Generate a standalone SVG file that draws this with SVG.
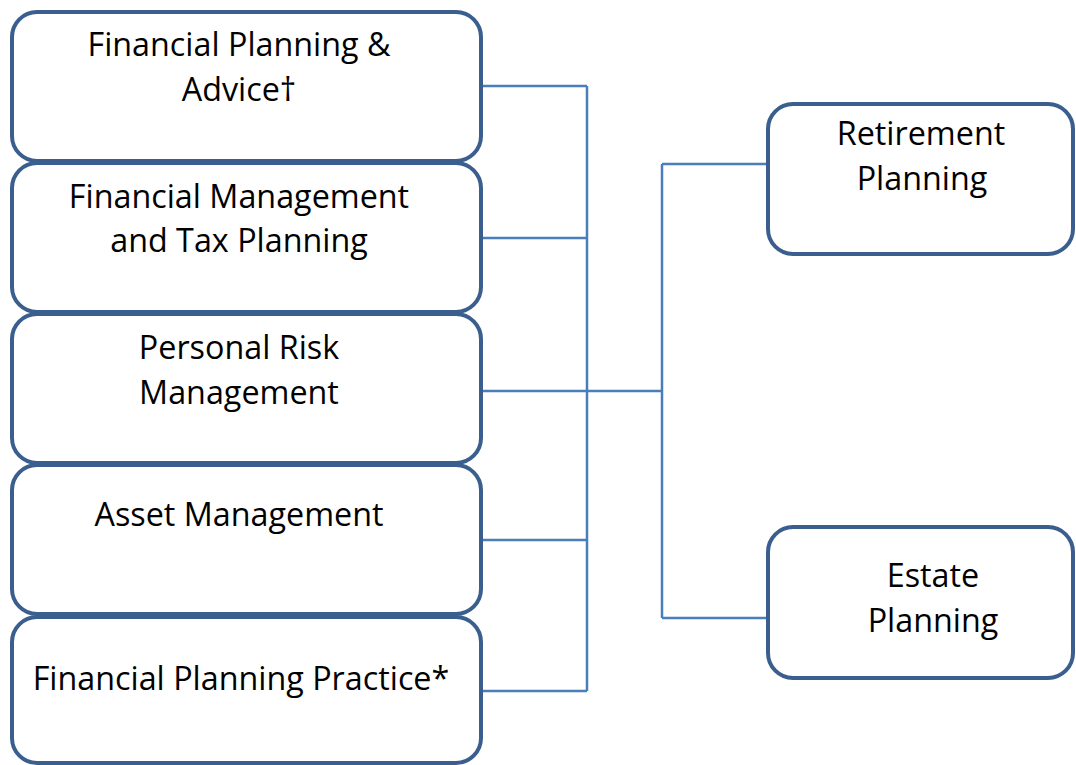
<svg xmlns="http://www.w3.org/2000/svg" width="1076" height="765" viewBox="0 0 1076 765">
<style>
.box{fill:#fff;stroke:#3A5F8E;stroke-width:4}
.t{font-family:"Open Sans","Liberation Sans",sans-serif;font-size:32.3px;fill:#000;text-anchor:middle}
.c{fill:none;stroke:#4A7EBB;stroke-width:2.5}
</style>
<rect width="1076" height="765" fill="#fff"/>
<g id="connectors">
<path class="c" d="M481 86H587M481 238H587M481 391H587M481 540H587M481 691H587M587 86V691"/>
<path class="c" d="M587 391H662M662 164V618M662 164H768M662 618H768"/>
</g>
<g id="n1"><rect class="box" x="12" y="12" width="469" height="149" rx="25"/>
<text class="t" x="239" y="56">Financial Planning &amp;</text><text class="t" x="239" y="101">Advice†</text></g>
<g id="n2"><rect class="box" x="12" y="163" width="469" height="149" rx="25"/>
<text class="t" x="239" y="208">Financial Management</text><text class="t" x="239" y="252">and Tax Planning</text></g>
<g id="n3"><rect class="box" x="12" y="314" width="469" height="149" rx="25"/>
<text class="t" x="239" y="359">Personal Risk</text><text class="t" x="239" y="404">Management</text></g>
<g id="n4"><rect class="box" x="12" y="465" width="469" height="149" rx="25"/>
<text class="t" x="239" y="526">Asset Management</text></g>
<g id="n5"><rect class="box" x="12" y="617" width="469" height="146" rx="25"/>
<text class="t" x="241" y="690">Financial Planning Practice*</text></g>
<g id="n6"><rect class="box" x="768" y="104" width="305" height="150" rx="25"/>
<text class="t" x="921" y="145">Retirement</text><text class="t" x="922" y="190">Planning</text></g>
<g id="n7"><rect class="box" x="768" y="527" width="305" height="151" rx="25"/>
<text class="t" x="933" y="587">Estate</text><text class="t" x="933" y="632">Planning</text></g>
</svg>
